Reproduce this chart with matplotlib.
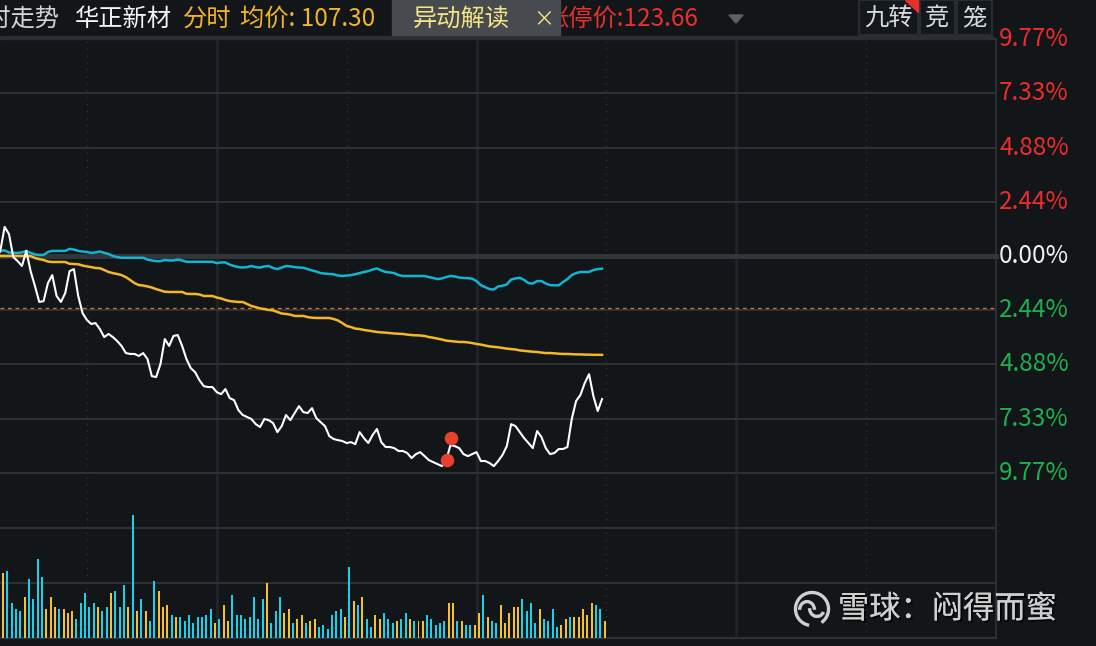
import numpy as np
import matplotlib.pyplot as plt
import matplotlib.patheffects as pe
from matplotlib.patches import Rectangle, Polygon, Arc
from matplotlib.transforms import blended_transform_factory

plt.rcParams['font.family'] = ['Noto Sans CJK SC', 'DejaVu Sans']

W, H = 1096, 646
BG = '#121619'

# minutes after 9:30 of the first visible point
start_min = 9

# price change of the stock (%), one value per minute
price_pct = [-0.14, 0.23, 1.31, 0.99, -0.05, -0.23, -0.45, 0.23, -0.68, -1.35,
             -2.07, -2.03, -1.22, -0.86, -1.80, -2.07, -1.67, -0.68, -0.59, -1.80,
             -2.57, -2.88, -3.06, -3.02, -3.29, -3.65, -3.51, -3.65, -3.83, -4.05,
             -4.37, -4.41, -4.41, -4.50, -4.37, -4.64, -5.41, -5.45, -4.86, -3.74,
             -4.05, -3.60, -3.56, -4.05, -4.64, -5.05, -5.23, -5.59, -5.86, -5.90,
             -5.90, -6.13, -6.22, -5.99, -6.40, -6.49, -6.94, -7.16, -7.25, -7.34,
             -7.57, -7.70, -7.34, -7.39, -7.52, -7.93, -7.66, -7.16, -7.39, -7.07,
             -6.76, -7.03, -7.07, -6.85, -7.30, -7.48, -7.66, -8.11, -8.24, -8.29,
             -8.33, -8.42, -8.38, -8.47, -7.93, -8.20, -8.42, -8.06, -7.79, -8.38,
             -8.60, -8.60, -8.65, -8.78, -8.78, -8.87, -9.10, -8.92, -8.83, -9.01,
             -9.19, -9.28, -9.37, -9.46, -9.19, -8.51, -8.56, -8.65, -8.92, -9.01,
             -8.92, -8.83, -9.23, -9.23, -9.32, -9.46, -9.23, -8.96, -8.56, -7.57,
             -7.66, -7.93, -8.20, -8.42, -8.65, -7.88, -8.15, -8.65, -8.92, -8.87,
             -8.69, -8.69, -8.60, -7.34, -6.53, -6.26, -5.72, -5.32, -6.31, -6.98,
             -6.44]

# average price line (%)
avg_pct = [0.00, 0.00, 0.00, 0.00, 0.00, 0.00, 0.00, 0.00, 0.00, -0.09,
           -0.14, -0.18, -0.25, -0.27, -0.27, -0.27, -0.27, -0.35, -0.36, -0.37,
           -0.43, -0.47, -0.50, -0.54, -0.55, -0.63, -0.72, -0.77, -0.81, -0.86,
           -0.95, -1.08, -1.22, -1.31, -1.33, -1.37, -1.42, -1.49, -1.55, -1.61,
           -1.62, -1.62, -1.62, -1.62, -1.70, -1.71, -1.71, -1.73, -1.80, -1.80,
           -1.80, -1.87, -1.91, -1.98, -2.03, -2.05, -2.07, -2.07, -2.16, -2.25,
           -2.30, -2.36, -2.39, -2.43, -2.45, -2.52, -2.59, -2.61, -2.64, -2.70,
           -2.70, -2.70, -2.75, -2.78, -2.79, -2.79, -2.79, -2.79, -2.84, -2.90,
           -3.02, -3.15, -3.20, -3.27, -3.29, -3.33, -3.36, -3.39, -3.42, -3.44,
           -3.45, -3.47, -3.49, -3.50, -3.51, -3.54, -3.56, -3.57, -3.58, -3.60,
           -3.65, -3.68, -3.72, -3.76, -3.81, -3.83, -3.85, -3.87, -3.87, -3.89,
           -3.92, -3.96, -3.99, -4.03, -4.07, -4.09, -4.11, -4.14, -4.17, -4.19,
           -4.21, -4.25, -4.27, -4.29, -4.31, -4.32, -4.35, -4.37, -4.37, -4.38,
           -4.40, -4.41, -4.41, -4.42, -4.43, -4.43, -4.44, -4.44, -4.45, -4.45,
           -4.45]

# index / sector line (%)
index_pct = [0.18, 0.23, 0.25, 0.16, 0.14, 0.14, 0.16, 0.23, 0.14, 0.07,
             0.05, 0.05, 0.18, 0.23, 0.23, 0.23, 0.23, 0.32, 0.29, 0.23,
             0.20, 0.18, 0.14, 0.16, 0.20, 0.14, 0.09, 0.00, -0.05, -0.08,
             -0.08, -0.08, -0.08, -0.08, -0.08, -0.16, -0.20, -0.23, -0.23, -0.18,
             -0.20, -0.20, -0.16, -0.20, -0.26, -0.26, -0.26, -0.26, -0.26, -0.26,
             -0.26, -0.32, -0.29, -0.29, -0.39, -0.45, -0.50, -0.52, -0.50, -0.45,
             -0.50, -0.52, -0.47, -0.45, -0.54, -0.59, -0.52, -0.45, -0.47, -0.50,
             -0.52, -0.53, -0.59, -0.65, -0.70, -0.77, -0.79, -0.81, -0.82, -0.88,
             -0.90, -0.88, -0.86, -0.82, -0.77, -0.72, -0.68, -0.61, -0.56, -0.65,
             -0.72, -0.74, -0.77, -0.86, -0.90, -0.90, -0.90, -0.90, -0.90, -0.90,
             -0.95, -0.99, -1.04, -1.01, -0.95, -0.90, -0.92, -0.97, -0.99, -1.00,
             -1.02, -1.13, -1.31, -1.40, -1.49, -1.51, -1.37, -1.34, -1.28, -1.06,
             -1.01, -0.98, -1.08, -1.22, -1.24, -1.13, -1.13, -1.24, -1.31, -1.32,
             -1.32, -1.17, -1.04, -0.86, -0.77, -0.72, -0.72, -0.72, -0.63, -0.59,
             -0.57]

# signal markers
sig_min = [113.2, 114.1]
sig_pct = [-9.19, -8.18]

ref_pct = -2.34
grid_pct = [9.77, 7.33, 4.88, 2.44, 0.00, -2.44, -4.88, -7.33, -9.77]

# volume per minute, Y = up (yellow), C = down (cyan)
vol_start = 10.6
vol = [65, 67, 35, 29, 27, 41, 59, 39, 79, 61,
       29, 41, 31, 29, 29, 25, 27, 19, 35, 45,
       31, 35, 31, 27, 31, 45, 47, 31, 53, 31,
       123, 27, 39, 27, 17, 57, 47, 31, 33, 23,
       21, 21, 17, 23, 15, 21, 21, 23, 29, 15,
       19, 33, 17, 43, 23, 23, 19, 21, 41, 19,
       39, 55, 15, 27, 41, 25, 29, 15, 19, 23,
       15, 17, 19, 11, 13, 9, 23, 27, 29, 21,
       71, 37, 33, 41, 19, 11, 23, 19, 25, 19,
       15, 17, 19, 25, 19, 17, 17, 17, 23, 19,
       13, 15, 17, 35, 35, 17, 17, 13, 13, 13,
       25, 43, 21, 17, 15, 33, 15, 25, 31, 31,
       39, 27, 35, 15, 29, 19, 17, 29, 11, 13,
       19, 21, 21, 21, 29, 23, 35, 33, 29, 17]
vol_dir = ("YCCCCYCCCC" "YYYCYYYCCC" "CCYCCYCCCY" "CYCYCCYYYC"
           "YCCCCCCCCY" "CYYCCCCCCC" "CYCCCYYCYY" "CYYCCCCCCY"
           "CYCYCCYYCC" "CYCCYCYYCC" "CCCYYCYCCY" "YCYCCYYYYY"
           "CCCCYCCCCY" "YCYYYYYCCY")
vol_max = 165

fig = plt.figure(figsize=(W / 100, H / 100), dpi=100, facecolor=BG)


def fx(px):
    return px / W


def fy(py):
    return 1 - py / H


X0, X1 = 9.93, 240

# price panel
ax = fig.add_axes([0, fy(473), 996 / W, (473 - 39) / H])
ax.set_xlim(X0, X1)
ax.set_ylim(-9.77, 9.77)
ax.axis('off')

for g in grid_pct:
    if g == 0:
        ax.axhline(g, color='#31363b', lw=3.6, zorder=1, clip_on=False)
    else:
        ax.axhline(g, color='#2e3237', lw=1.4, zorder=1, clip_on=False)
ax.axhline(ref_pct, color='#e3782b', lw=0.9, ls=(0, (3, 3)), zorder=2)

# volume panel
axv = fig.add_axes([0, fy(638), 996 / W, (638 - 473) / H])
axv.set_xlim(X0, X1)
axv.set_ylim(0, vol_max)
axv.axis('off')
for frac in (1 / 3, 2 / 3):
    axv.axhline(vol_max * frac, color='#2e3237', lw=1.4, zorder=1)
axv.axhline(0, color='#2e3237', lw=1.6, zorder=1, clip_on=False)

for a in (ax, axv):
    for m in (60, 120, 180):
        a.axvline(m, color='#22262b', lw=1.8, zorder=0.5)
    for m in (30, 90, 150, 210):
        a.axvline(m, color='#2b3137', lw=1.0, ls=(0, (1, 4)), zorder=0.5)
    a.axvline(240, color='#2b2f34', lw=1.4, zorder=0.5, clip_on=False)

# lines
xm = np.arange(len(price_pct)) + start_min
ax.plot(np.arange(len(index_pct)) + start_min, index_pct, color='#12b4cf', lw=1.8, zorder=3)
ax.plot(np.arange(len(avg_pct)) + start_min, avg_pct, color='#f5b627', lw=1.8, zorder=3)
ax.plot(xm, price_pct, color='white', lw=1.5, zorder=4)
ax.scatter(sig_min, sig_pct, s=95, color='#e8402b', zorder=5, linewidths=0)

# volume bars
xv = np.arange(len(vol)) + vol_start
cols = ['#f7c02d' if d == 'Y' else '#17d2ea' for d in vol_dir]
axv.bar(xv, vol, width=0.46, color=cols, zorder=3)

# right axis labels
tr = blended_transform_factory(fig.transFigure, ax.transData)
for g in grid_pct:
    c = '#ee2c2c' if g > 0 else ('#f2f2f2' if g == 0 else '#1eb04e')
    ax.text(fx(999), g, f"{abs(g):.2f}%", transform=tr, color=c,
            fontsize=17.5, va='center', ha='left', clip_on=False)

# top bar
fig.patches.append(Rectangle((0, fy(39)), 993 / W, 3 / H, transform=fig.transFigure,
                             color='#2a2e33', zorder=1))
ty = fy(19)
tkw = dict(fontsize=17.5, va='center', ha='left')
fig.text(fx(-37), ty, '分时走势', color='#d2d5d8', **tkw)
fig.text(fx(75), ty, '华正新材', color='#f4f4f4', **tkw)
fig.text(fx(183), ty, '分时', color='#f2b42a', **tkw)
fig.text(fx(240), ty, '均价: 107.30', color='#f2b42a', **tkw)
fig.text(fx(544), ty, '涨停价:123.66', color='#e8302d', zorder=2, **tkw)
fig.patches.append(Rectangle((fx(392), fy(35)), 168 / W, 35 / H, transform=fig.transFigure,
                             color='#474a4e', zorder=3))
fig.text(fx(413), ty, '异动解读', color='#f3e487', zorder=4, **tkw)
fig.text(fx(533), ty, '×', color='#f3e487', zorder=4, fontsize=15, va='center', ha='left')
fig.patches.append(Polygon([[fx(729), fy(15)], [fx(743), fy(15)], [fx(736), fy(23)]],
                           closed=True, transform=fig.transFigure, color='#5d6166', zorder=3))

for x0, x1, label in ((859, 918, '九转'), (920, 955, '竞'), (957, 992, '笼')):
    fig.patches.append(Rectangle((fx(x0), fy(35)), (x1 - x0) / W, 35 / H,
                                 transform=fig.transFigure, facecolor='#14181c',
                                 edgecolor='#2c3136', lw=1.2, zorder=3))
    fig.text(fx((x0 + x1) / 2), ty, label, color='#d5dbe0', zorder=4,
             fontsize=17.5, va='center', ha='center')
fig.patches.append(Polygon([[fx(905), fy(0)], [fx(918), fy(0)], [fx(918), fy(12)]],
                           closed=True, transform=fig.transFigure, color='#e8302d', zorder=5))

# watermark
shadow = [pe.withSimplePatchShadow(offset=(1.5, -1.5), shadow_rgbFace='black', alpha=0.7),
          pe.Normal()]
fig.text(fx(838), fy(609), '雪球：闷得而蜜', color='#cfcfcf', fontsize=22.5,
         va='center', ha='left', zorder=6, path_effects=shadow)
axl = fig.add_axes([fx(793), fy(628), 38 / W, 38 / H])
axl.set_xlim(-1.15, 1.15)
axl.set_ylim(-1.15, 1.15)
axl.axis('off')
axl.add_patch(Arc((0, 0), 2, 2, theta1=-55, theta2=260, color='#cfcfcf', lw=2.4))
axl.add_patch(Arc((-0.3, -0.05), 0.9, 1.0, theta1=0, theta2=180, color='#cfcfcf', lw=2.4))
axl.add_patch(Arc((0.3, 0.05), 0.9, 1.0, theta1=180, theta2=330, color='#cfcfcf', lw=2.4))

fig.savefig('out.png', dpi=100, facecolor=BG)
